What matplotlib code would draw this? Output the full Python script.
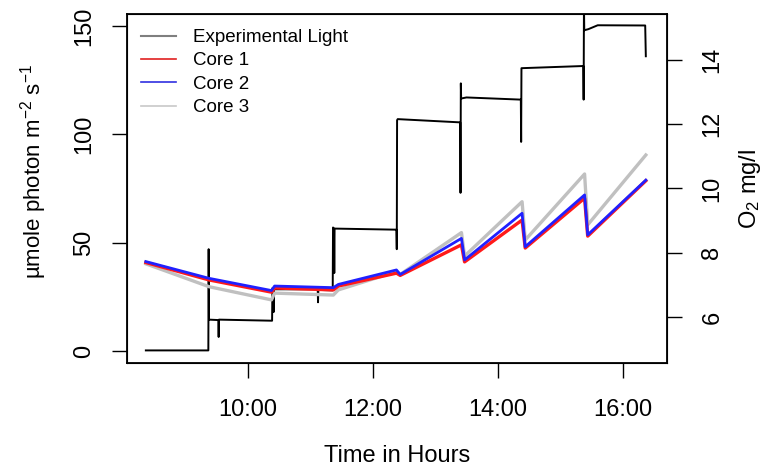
import matplotlib

matplotlib.use("Agg")
import matplotlib.pyplot as plt
from matplotlib.lines import Line2D

plt.rcParams["font.family"] = ["Liberation Sans", "DejaVu Sans"]
plt.rcParams["mathtext.fontset"] = "custom"
plt.rcParams["mathtext.rm"] = "Liberation Sans"
plt.rcParams["mathtext.it"] = "Liberation Sans:italic"

# experimental light (umole photon m-2 s-1), time in decimal hours
light_hours = [8.37, 9.37, 9.375, 9.38, 9.53, 9.535, 9.54, 10.39, 10.395, 10.41,
               10.415, 10.42, 11.12, 11.125, 11.13, 11.36, 11.365, 11.38, 11.385,
               11.39, 12.38, 12.385, 12.39, 12.40, 13.40, 13.405, 13.41, 13.415,
               13.5, 14.37, 14.375, 14.38, 15.37, 15.375, 15.38, 15.385, 15.45,
               15.6, 16.36, 16.37]
light_vals = [0.3, 0.3, 47, 14.5, 14.3, 6.5, 14.5, 14.0, 29.0, 28.5,
              18.0, 28.5, 28.5, 22.5, 28.2, 28.0, 57.0, 56.5, 36.0,
              56.5, 56.0, 47.0, 106.5, 107.0, 105.5, 73.0, 123.5, 116.5,
              117.0, 116.0, 96.5, 130.5, 131.5, 116.0, 160.0, 148.0, 148.5,
              150.3, 150.2, 136.0]

# dissolved oxygen (mg/l) for the three cores
o2_hours = [8.37, 9.38, 10.38, 10.43, 11.37, 11.45, 12.38, 12.44,
            13.42, 13.47, 14.39, 14.44, 15.39, 15.44, 16.37]
core1 = [7.70, 7.16, 6.78, 6.91, 6.85, 6.97, 7.37, 7.30,
         8.25, 7.72, 9.02, 8.15, 9.70, 8.52, 10.24]
core2 = [7.73, 7.21, 6.83, 6.97, 6.92, 7.02, 7.47, 7.33,
         8.45, 7.78, 9.23, 8.19, 9.80, 8.56, 10.26]
core3 = [7.66, 6.95, 6.54, 6.75, 6.69, 6.85, 7.42, 7.33,
         8.63, 7.90, 9.59, 8.40, 10.45, 8.87, 11.04]

hour_ticks = [10, 12, 14, 16]
hour_labels = ["10:00", "12:00", "14:00", "16:00"]
light_ticks = [0, 50, 100, 150]
o2_ticks = [6, 8, 10, 12, 14]

FS = 17
fig = plt.figure(figsize=(7.68, 4.68), dpi=100)
ax = fig.add_axes([0.165, 0.2244, 0.7031, 0.7457])

ax.plot(light_hours, light_vals, color="black", lw=1.4)
ax.set_xlim(8.064, 16.704)
ax.set_ylim(-5.5, 155.5)
ax.set_xticks(hour_ticks, hour_labels)
ax.set_yticks(light_ticks)
for lab in ax.get_yticklabels():
    lab.set_rotation(90)
    lab.set_va("center")
ax.tick_params(length=11, width=1, labelsize=FS, direction="out")
ax.tick_params(axis="x", pad=15)
ax.tick_params(axis="y", pad=12)
for s in ax.spines.values():
    s.set_linewidth(1.3)

ax2 = ax.twinx()
ax2.plot(o2_hours, core3, color="#c0c0c0", lw=2.4)
ax2.plot(o2_hours, core1, color="#ff1a1a", lw=2.4)
ax2.plot(o2_hours, core2, color="#2020ff", lw=2.0)
ax2.set_ylim(4.58, 15.42)
ax2.set_yticks(o2_ticks)
for lab in ax2.get_yticklabels():
    lab.set_rotation(90)
    lab.set_va("center")
ax2.tick_params(length=11, width=1, labelsize=FS, pad=14)

fig.text(396.7 / 768, 1 - 456 / 468, "Time in Hours", ha="center", va="center",
         fontsize=FS)
fig.text(34 / 768, 1 - 172 / 468, "\u00b5mole photon m$^{-2}$ s$^{-1}$",
         ha="center", va="center", rotation=90, fontsize=16)
fig.text(750 / 768, 1 - 189 / 468, r"O$_2$ mg/l", ha="center", va="center",
         rotation=90, fontsize=FS)

handles = [Line2D([], [], color="#7f7f7f", lw=1.5),
           Line2D([], [], color="#e02020", lw=1.2),
           Line2D([], [], color="#3030e0", lw=1.2),
           Line2D([], [], color="#c8c8c8", lw=1.2)]
labels = ["Experimental Light", "Core 1", "Core 2", "Core 3"]
ax2.legend(handles, labels, loc="upper left", bbox_to_anchor=(141 / 768, 1 - 29 / 468),
           bbox_transform=fig.transFigure, frameon=False, fontsize=13.5,
           handlelength=1.87, handletextpad=0.9, labelspacing=0.33,
           borderaxespad=0, borderpad=0)

fig.savefig("out.png", dpi=100)
